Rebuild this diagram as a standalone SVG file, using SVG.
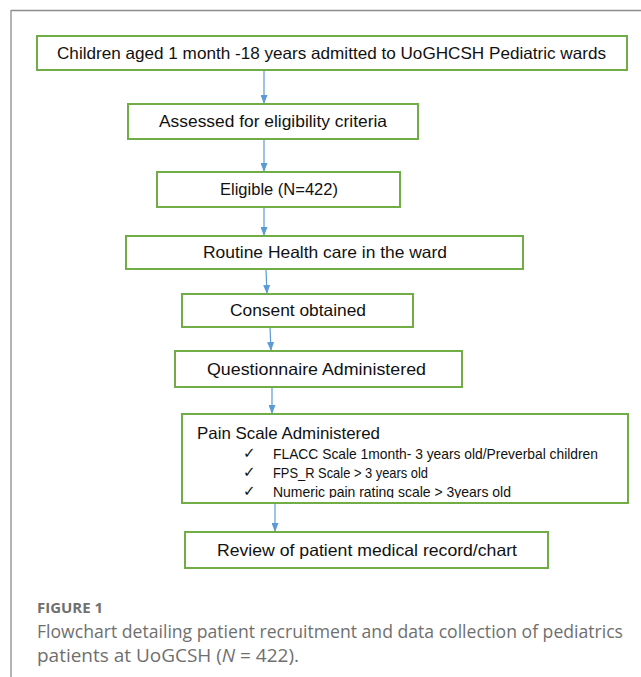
<svg xmlns="http://www.w3.org/2000/svg" width="641" height="677" viewBox="0 0 641 677">
<style>
.box{fill:#fff;stroke:#70AD47;stroke-width:2}
.t{font-family:"Liberation Sans",Arial,sans-serif;font-size:16.5px;fill:#111}
.s{font-family:"Liberation Sans",Arial,sans-serif;font-size:14.5px;fill:#111}
.c{font-family:"DejaVu Sans",sans-serif;font-size:15px;fill:#111}
.conn line{stroke:#5B9BD5;stroke-width:1.2;fill:none}
.cap{font-family:"Open Sans","Liberation Sans",sans-serif;fill:#6f6f6f}
</style>
<defs>
<marker id="ah" markerWidth="9" markerHeight="7" refX="9" refY="3.5" orient="auto" markerUnits="userSpaceOnUse">
<path d="M0,0 L9,3.5 L0,7 Z" fill="#5B9BD5"/>
</marker>
<clipPath id="painclip"><rect x="182" y="414" width="446" height="84"/></clipPath>
</defs>
<rect width="641" height="677" fill="#fff"/>
<g id="frame" stroke="#8c8c8c" stroke-width="1.3" fill="none">
<line x1="11" y1="10.5" x2="641" y2="10.5"/>
<line x1="11" y1="10" x2="11" y2="677"/>
</g>
<g class="conn" id="connectors">
<line x1="264" y1="70" x2="264" y2="104" marker-end="url(#ah)"/>
<line x1="264" y1="139" x2="264" y2="172" marker-end="url(#ah)"/>
<line x1="264" y1="207" x2="264" y2="236" marker-end="url(#ah)"/>
<line x1="266" y1="269" x2="267" y2="294" marker-end="url(#ah)"/>
<line x1="270" y1="327" x2="271" y2="351" marker-end="url(#ah)"/>
<line x1="272" y1="387" x2="272" y2="414" marker-end="url(#ah)"/>
<line x1="275" y1="503" x2="275" y2="532" marker-end="url(#ah)"/>
</g>
<g id="n1"><rect class="box" x="37" y="36" width="590" height="34"/>
<text class="t" x="57" y="59" textLength="549" lengthAdjust="spacingAndGlyphs">Children aged 1 month -18 years admitted to UoGHCSH Pediatric wards</text></g>
<g id="n2"><rect class="box" x="128" y="104" width="290" height="35"/>
<text class="t" x="159" y="127" textLength="228" lengthAdjust="spacingAndGlyphs">Assessed for eligibility criteria</text></g>
<g id="n3"><rect class="box" x="157" y="172" width="243" height="35"/>
<text class="t" x="220" y="195" textLength="118" lengthAdjust="spacingAndGlyphs">Eligible (N=422)</text></g>
<g id="n4"><rect class="box" x="126" y="236" width="397" height="33"/>
<text class="t" x="203" y="258" textLength="244" lengthAdjust="spacingAndGlyphs">Routine Health care in the ward</text></g>
<g id="n5"><rect class="box" x="182" y="294" width="231" height="33"/>
<text class="t" x="230" y="316" textLength="136" lengthAdjust="spacingAndGlyphs">Consent obtained</text></g>
<g id="n6"><rect class="box" x="175" y="351" width="287" height="36"/>
<text class="t" x="207" y="375" textLength="219" lengthAdjust="spacingAndGlyphs">Questionnaire Administered</text></g>
<g id="n7"><rect class="box" x="182" y="414" width="446" height="89"/>
<g clip-path="url(#painclip)">
<text class="t" x="197" y="439" textLength="183" lengthAdjust="spacingAndGlyphs">Pain Scale Administered</text>
<text class="c" x="243" y="458">✓</text>
<text class="s" x="273" y="459" textLength="325" lengthAdjust="spacingAndGlyphs">FLACC Scale 1month- 3 years old/Preverbal children</text>
<text class="c" x="243" y="477">✓</text>
<text class="s" x="273" y="478" textLength="155" lengthAdjust="spacingAndGlyphs">FPS_R Scale &gt; 3 years old</text>
<text class="c" x="243" y="496">✓</text>
<text class="s" x="273" y="497" textLength="238" lengthAdjust="spacingAndGlyphs">Numeric pain rating scale &gt; 3years old</text>
</g></g>
<g id="n8"><rect class="box" x="185" y="532" width="363" height="36"/>
<text class="t" x="217" y="556" textLength="300" lengthAdjust="spacingAndGlyphs">Review of patient medical record/chart</text></g>
<g id="caption">
<text class="cap" x="37" y="613" font-size="14" font-weight="bold" fill="#777" textLength="66" lengthAdjust="spacingAndGlyphs">FIGURE 1</text>
<text class="cap" x="37" y="638" font-size="18" textLength="586" lengthAdjust="spacingAndGlyphs">Flowchart detailing patient recruitment and data collection of pediatrics</text>
<text class="cap" x="37" y="662" font-size="18" textLength="262" lengthAdjust="spacingAndGlyphs">patients at UoGCSH (<tspan font-style="italic">N</tspan> = 422).</text>
</g>
</svg>
